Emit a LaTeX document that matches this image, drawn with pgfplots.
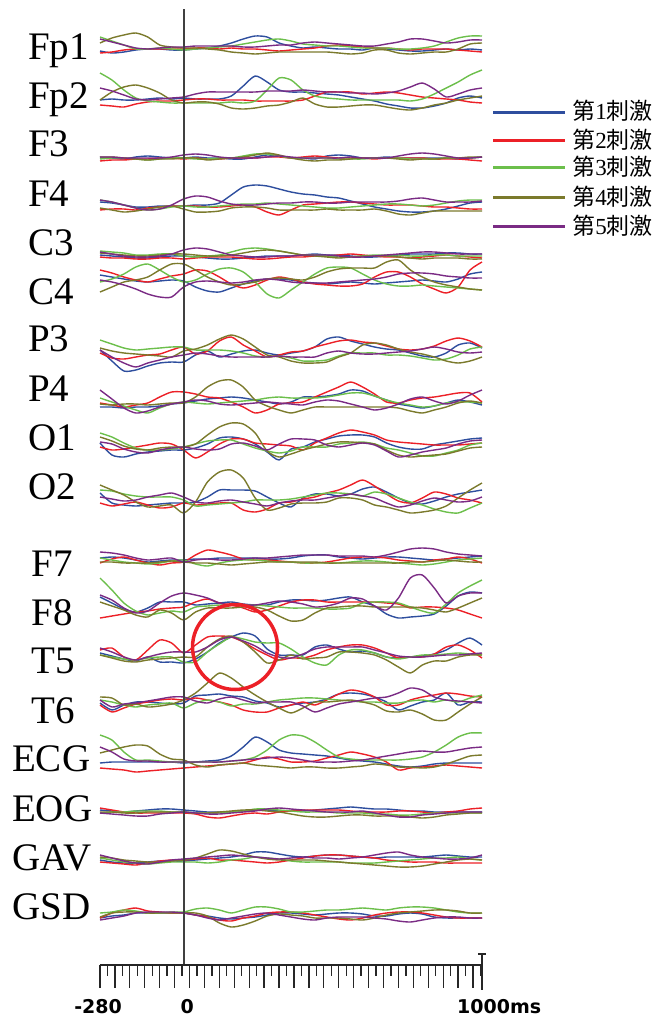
\documentclass[border=0pt]{standalone}
\usepackage{fontspec}
\setmainfont{Liberation Serif}
\newfontfamily\cjk{Noto Sans CJK SC}
\newfontfamily\tickfont{DejaVu Sans}
\usepackage{pgfplots}
\usepackage{pgfplotstable}
\pgfplotsset{compat=1.18}
\definecolor{cB}{HTML}{2E4E9E}
\definecolor{cR}{HTML}{EC2027}
\definecolor{cG}{HTML}{6CBF4B}
\definecolor{cO}{HTML}{7B7A2C}
\definecolor{cP}{HTML}{7A2B84}

\pgfplotstableread[header=false]{
t -280 -240 -200 -160 -120 -80 -40 0 40 80 120 160 200 240 280 320 360 400 440 480 520 560 600 640 680 720 760 800 840 880 920 960 1000
b -3 -5 -4 -2 -1 -1 -2 -2 -1 0 2 5 9 12 11 5 2 0 1 0 -1 -1 -2 0 -1 -2 -3 -3 -2 -1 -2 -1 -2
r -5 -4 -2 -1 -1 -1 -1 -1 0 0 -1 0 -1 -1 -2 -3 -2 -1 0 2 3 2 1 0 0 -1 -2 -1 -1 -1 -2 -3 -4
g 11 7 3 -1 -1 0 -1 -2 -1 0 1 2 4 6 8 9 7 4 3 2 2 1 0 0 0 -1 -1 0 2 6 10 12 12
o 5 10 13 15 11 3 1 0 0 -1 -2 -4 -5 -6 -5 -4 -4 -4 -4 -4 -5 -6 -5 -2 -2 -5 -6 -5 -4 -4 -1 4 5
p 9 6 3 0 -1 0 1 1 2 2 2 2 1 1 2 3 3 5 6 5 4 3 2 2 4 6 9 9 7 5 6 8 8
}\raw
\pgfplotstabletranspose[colnames from=0]{\tFpi}{\raw}

\pgfplotstableread[header=false]{
t -280 -240 -200 -160 -120 -80 -40 0 40 80 120 160 200 240 280 320 360 400 440 480 520 560 600 640 680 720 760 800 840 880 920 960 1000
b -2 -1 -2 -2 -1 0 -1 0 -1 -1 -1 2 12 22 16 8 6 6 5 4 3 1 -1 -3 -6 -8 -10 -10 -8 -5 0 2 0
r -7 -8 -9 -6 -4 -3 -3 -2 -1 -1 -2 -2 -2 -3 -3 -3 -3 -2 2 6 6 6 4 5 6 5 3 1 0 -1 -2 -4 -5
g 25 18 8 0 -3 -4 -5 -5 -5 -5 -5 -4 -5 -3 8 20 18 8 2 0 -1 -2 -2 -2 -2 -2 -3 -1 4 10 16 23 28
o -2 6 11 13 10 5 -2 -5 -4 -4 -6 -10 -11 -10 -8 -7 -4 0 -6 -9 -9 -8 -7 -7 -9 -11 -12 -10 -7 -5 -2 0 2
p 10 7 3 -1 -2 -1 0 1 4 6 6 6 6 6 7 7 7 8 7 6 6 5 5 4 5 7 11 15 9 1 4 8 10
}\raw
\pgfplotstabletranspose[colnames from=0]{\tFpii}{\raw}

\pgfplotstableread[header=false]{
t -280 -240 -200 -160 -120 -80 -40 0 40 80 120 160 200 240 280 320 360 400 440 480 520 560 600 640 680 720 760 800 840 880 920 960 1000
b 0 0 -1 1 2 1 0 0 1 0 0 -1 -1 1 3 2 0 0 -1 2 3 2 0 0 1 0 0 0 0 0 -1 0 1
r -3 -2 -2 -1 -1 0 0 -1 0 -1 -1 0 0 0 1 1 0 1 2 1 0 0 0 -1 0 0 0 0 -1 -1 -1 -2 -3
g -1 0 0 -1 -2 -1 0 0 -1 -1 0 0 2 4 4 2 0 0 0 0 -1 -1 -1 0 0 0 -1 -1 -1 0 0 0 1
o 1 1 0 -1 -2 -1 -1 0 0 -2 -1 0 1 3 5 3 0 -2 -3 -2 -2 -1 0 0 0 -1 -2 -1 -1 0 0 1 1
p 1 1 0 0 0 0 1 3 4 3 1 0 0 0 1 2 1 0 0 0 0 1 0 0 0 2 4 5 4 2 0 0 1
}\raw
\pgfplotstabletranspose[colnames from=0]{\tFiii}{\raw}

\pgfplotstableread[header=false]{
t -280 -240 -200 -160 -120 -80 -40 0 40 80 120 160 200 240 280 320 360 400 440 480 520 560 600 640 680 720 760 800 840 880 920 960 1000
b 3 2 0 -2 -2 -1 -1 -1 0 0 2 10 18 20 19 16 13 11 10 8 7 4 1 -2 -4 -6 -7 -7 -6 -4 -1 2 3
r -5 -4 -4 -5 -3 -2 -1 -1 -1 -2 -2 -1 0 -2 -7 -10 -5 0 1 2 3 3 2 1 0 0 0 -1 -2 -2 -3 -4 -4
g 5 3 0 -3 -5 -4 -2 -1 -2 -2 -1 0 1 1 2 1 0 -1 -2 -3 -3 -2 -1 0 1 1 0 -1 0 2 4 5 5
o -3 -5 -7 -6 -4 -2 -1 -4 -7 -7 -6 -3 -2 -2 -3 -5 -5 -5 -5 -4 -5 -5 -5 -4 -6 -9 -10 -8 -6 -6 -6 -6 -6
p 5 3 0 -3 -5 -4 0 6 9 8 4 1 0 0 1 2 2 3 3 2 2 3 3 3 3 4 6 7 5 3 3 3 4
}\raw
\pgfplotstabletranspose[colnames from=0]{\tFiv}{\raw}

\pgfplotstableread[header=false]{
t -280 -240 -200 -160 -120 -80 -40 0 40 80 120 160 200 240 280 320 360 400 440 480 520 560 600 640 680 720 760 800 840 880 920 960 1000
b 2 1 0 -1 -1 0 1 1 0 -1 -2 -2 -1 0 1 1 1 2 3 2 2 1 0 0 1 2 3 3 3 4 4 3 3
r 0 -1 -1 -2 -2 -1 -1 -2 -1 0 0 0 -1 -2 -2 -1 0 0 1 1 2 3 2 1 0 0 -1 0 1 2 1 0 -1
g 6 5 4 2 2 3 3 1 0 1 2 5 8 9 8 6 4 2 2 1 0 0 1 2 2 2 1 1 2 2 1 1 1
o 4 3 2 1 1 2 3 3 2 1 1 2 4 6 7 6 4 2 1 0 -1 0 1 1 1 0 -1 -2 -1 -1 -1 -2 -2
p 5 3 1 0 0 1 3 7 9 8 5 2 1 0 0 1 1 2 2 2 1 0 0 1 2 3 4 5 5 4 3 3 3
}\raw
\pgfplotstabletranspose[colnames from=0]{\tCiii}{\raw}

\pgfplotstableread[header=false]{
t -280 -240 -200 -160 -120 -80 -40 0 40 80 120 160 200 240 280 320 360 400 440 480 520 560 600 640 680 720 760 800 840 880 920 960 1000
b 7 5 3 1 0 1 2 1 -5 -9 -10 -6 -2 1 3 3 2 0 -1 -2 -1 0 -1 -2 -1 0 1 2 1 0 3 8 10
r 12 9 5 2 0 3 6 8 12 11 5 -2 -6 -3 2 5 3 0 -2 -3 -4 -4 -2 5 10 10 5 -2 -7 -11 -5 12 20
g 0 3 8 15 18 12 5 0 2 8 13 14 10 0 -12 -16 -8 0 8 14 15 14 8 2 -2 -4 -4 -3 -4 -5 -6 -7 -8
o -10 -5 0 2 5 12 18 18 12 5 0 -3 -2 0 3 4 3 2 5 10 13 14 14 14 20 22 12 5 0 -3 -5 -7 -8
p 2 0 -3 -7 -12 -15 -15 -5 0 1 0 -1 0 2 3 2 0 -1 -1 -1 0 1 2 3 5 8 9 9 8 6 5 4 4
}\raw
\pgfplotstabletranspose[colnames from=0]{\tCiv}{\raw}

\pgfplotstableread[header=false]{
t -280 -240 -200 -160 -120 -80 -40 0 40 80 120 160 200 240 280 320 360 400 440 480 520 560 600 640 680 720 760 800 840 880 920 960 1000
b 3 -8 -18 -17 -13 -10 -9 -9 -2 2 -4 -1 2 3 0 -2 0 2 6 14 16 12 9 6 4 3 0 -3 -4 0 8 10 5
r 0 -5 -6 -4 -2 -1 3 6 -1 2 12 16 8 2 -4 -2 1 2 6 9 12 13 11 10 7 4 3 4 7 12 15 12 6
g 13 9 5 3 4 5 6 6 3 3 3 2 0 -3 -4 -3 -5 -8 -8 -7 -3 0 0 0 -2 -2 -3 -5 -7 -6 -2 4 6
o 5 2 0 -1 -2 -3 -4 2 4 8 14 18 14 6 -2 -4 -8 -10 -10 -9 -4 0 8 10 8 4 1 -1 -4 -8 -10 -8 -4
p 3 -4 -10 -14 -10 -7 -4 -2 0 -1 -3 -4 -4 -4 -4 -3 -4 -4 -4 0 2 0 -1 -1 0 1 2 4 6 4 1 0 1
}\raw
\pgfplotstabletranspose[colnames from=0]{\tPiii}{\raw}

\pgfplotstableread[header=false]{
t -280 -240 -200 -160 -120 -80 -40 0 40 80 120 160 200 240 280 320 360 400 440 480 520 560 600 640 680 720 760 800 840 880 920 960 1000
b -5 -5 -6 -5 -5 -4 -2 -1 1 3 4 5 4 2 0 -2 0 5 5 6 8 12 11 6 2 -2 -4 -6 -4 -1 2 0 -3
r -1 -3 -5 -3 -1 5 10 10 8 5 4 0 -5 -11 -8 -2 -1 0 5 10 15 20 15 8 0 -1 2 4 5 7 9 9 0
g 4 0 -4 -8 -11 -6 -2 0 -1 -2 -1 0 1 2 4 5 4 4 4 5 7 9 9 6 2 -1 -3 -5 -4 -1 0 0 -1
o -2 -3 -2 -2 -3 -2 -1 -1 5 15 21 22 15 2 -4 -8 -11 -8 -5 -5 -5 -5 -5 -5 -5 -6 -9 -11 -8 -5 -1 1 -1
p 12 3 -6 -11 -9 -5 -2 0 2 1 -2 -3 -2 -1 0 -1 -2 -3 0 2 1 -2 -5 -8 -6 -2 3 5 1 -2 1 7 12
}\raw
\pgfplotstabletranspose[colnames from=0]{\tPiv}{\raw}

\pgfplotstableread[header=false]{
t -280 -240 -200 -160 -120 -80 -40 0 40 80 120 160 200 240 280 320 360 400 440 480 520 560 600 640 680 720 760 800 840 880 920 960 1000
b 4 -8 -10 -7 -5 -4 -3 -3 -1 3 9 10 8 3 -5 -13 -2 0 5 8 11 12 12 10 4 0 -2 -2 2 4 6 8 9
r 0 -3 -2 0 2 4 3 -3 -11 -5 3 8 8 4 3 2 1 -3 4 9 14 17 15 12 7 5 4 3 2 2 2 3 4
g 14 10 4 -1 -3 -3 -2 0 3 6 7 7 3 -1 -4 -6 -4 0 0 0 3 4 5 3 -1 -3 -6 -9 -9 -6 -3 2 4
o 10 6 1 -2 -3 -1 0 0 3 12 20 24 23 14 -4 -10 -7 -3 0 3 5 5 4 3 -3 -8 -10 -9 -8 -7 -4 -1 0
p 5 3 -2 -5 -6 -3 -1 0 -2 -3 -2 3 4 1 -3 3 8 8 7 2 0 2 4 2 -4 -10 -8 -5 -3 -1 3 6 7
}\raw
\pgfplotstabletranspose[colnames from=0]{\tOi}{\raw}

\pgfplotstableread[header=false]{
t -280 -240 -200 -160 -120 -80 -40 0 40 80 120 160 200 240 280 320 360 400 440 480 520 560 600 640 680 720 760 800 840 880 920 960 1000
b 7 -3 -5 -6 -5 -4 -3 -3 -2 3 10 10 10 9 3 -3 -7 2 6 6 4 6 11 13 8 2 -3 -4 -1 3 6 8 10
r -3 -6 -4 -2 -5 -8 -7 -3 -5 -4 -3 -3 -10 -12 -9 -3 -2 1 3 7 10 15 20 14 6 -1 -3 2 8 6 2 0 -3
g 10 9 6 4 3 3 3 0 -6 -5 -4 -3 -2 0 0 0 1 3 5 7 7 6 4 8 6 2 -2 -5 -9 -12 -13 -8 -3
o 15 10 5 -2 -7 -6 -5 -13 -2 18 28 30 22 2 -10 -8 -4 -3 -3 -2 2 2 0 -5 -7 -10 -13 -12 -10 -6 2 10 17
p 3 1 -1 0 3 5 7 3 -2 -3 -1 0 -2 -4 -6 -3 -1 0 0 2 4 6 4 2 -3 -7 -5 -1 2 0 -2 -1 3
}\raw
\pgfplotstabletranspose[colnames from=0]{\tOii}{\raw}

\pgfplotstableread[header=false]{
t -280 -240 -200 -160 -120 -80 -40 0 40 80 120 160 200 240 280 320 360 400 440 480 520 560 600 640 680 720 760 800 840 880 920 960 1000
b 2 3 2 0 -2 -1 0 0 1 1 2 2 2 2 1 1 2 4 5 5 3 2 1 2 3 3 2 1 0 1 2 3 4
r -3 1 3 0 -3 -5 -3 -2 5 10 8 5 1 0 0 -1 -2 -3 -3 -2 0 2 3 3 2 0 -1 -2 0 1 3 1 -3
g 2 0 -2 -3 -4 -3 -1 0 -4 -6 -3 -1 0 0 -1 -2 -2 -3 -3 -3 -3 -2 -1 -1 -2 -3 -4 -5 -4 -2 0 1 2
o -2 -2 -3 -3 -3 -2 -1 -2 -3 -3 -4 -5 -4 -3 -2 -2 -2 -2 -2 -3 -3 -3 -3 -3 -3 -3 -2 -2 -1 0 -1 -2 -2
p 8 7 5 2 0 1 2 -2 0 1 0 0 1 2 2 3 4 5 5 5 4 4 4 3 5 8 11 12 11 8 6 5 4
}\raw
\pgfplotstabletranspose[colnames from=0]{\tFvii}{\raw}

\pgfplotstableread[header=false]{
t -280 -240 -200 -160 -120 -80 -40 0 40 80 120 160 200 240 280 320 360 400 440 480 520 560 600 640 680 720 760 800 840 880 920 960 1000
b 11 5 -1 -4 0 6 6 6 3 4 5 6 4 3 3 6 8 8 7 8 10 11 6 2 -6 -10 -9 -8 -6 2 12 16 15
r -10 -8 -6 -4 -3 -1 0 1 6 9 5 3 0 -4 -2 2 6 8 8 6 6 6 6 6 5 4 0 1 1 0 -2 -6 -10
g 30 18 5 -3 -7 -5 -3 -4 1 2 3 3 3 3 2 1 0 0 0 -1 -1 0 5 6 6 5 1 -3 -5 4 15 22 28
o 6 2 -2 -7 -9 -2 -5 -12 -4 0 0 0 1 1 -2 -8 -13 -12 -5 0 1 2 2 1 1 1 1 0 -2 -4 0 5 10
p 13 8 0 -5 -3 5 12 15 13 10 5 3 3 3 5 7 6 4 1 2 5 10 9 2 -2 10 30 33 20 5 12 15 15
}\raw
\pgfplotstabletranspose[colnames from=0]{\tFviii}{\raw}

\pgfplotstableread[header=false]{
t -280 -240 -200 -160 -120 -80 -40 0 40 80 120 160 200 240 280 320 360 400 440 480 520 560 600 640 680 720 760 800 840 880 920 960 1000
b 4 1 -2 -4 0 -5 -5 -6 -2 5 14 20 24 21 8 2 2 2 10 12 8 5 6 4 0 -1 0 1 3 7 14 19 12
r 7 9 0 -3 7 17 14 4 12 20 21 20 15 8 2 -3 -1 -1 2 7 10 12 12 9 4 -1 0 0 3 10 12 7 -1
g 2 0 -2 -3 -1 0 0 -5 -5 5 13 20 18 15 14 14 8 0 -6 -8 2 7 7 4 0 -2 0 2 2 3 4 3 2
o 2 -1 -4 -5 -3 -2 -1 0 0 10 18 21 15 5 -6 -3 2 -2 -1 0 5 5 4 2 -3 -10 -16 -8 -4 -4 0 2 2
p 9 5 0 -3 0 3 5 5 5 10 17 20 16 11 4 0 -1 3 8 10 10 10 10 7 4 1 0 0 1 2 2 3 4
}\raw
\pgfplotstabletranspose[colnames from=0]{\tTv}{\raw}

\pgfplotstableread[header=false]{
t -280 -240 -200 -160 -120 -80 -40 0 40 80 120 160 200 240 280 320 360 400 440 480 520 560 600 640 680 720 760 800 840 880 920 960 1000
b -1 -8 -3 0 0 -1 -2 -1 6 7 8 6 5 1 -1 -5 -3 -1 0 3 8 9 8 5 0 -8 -4 0 2 9 -3 0 0
r -3 -10 -6 -2 0 2 3 2 4 2 0 -3 -8 -10 -10 -6 -3 0 -3 2 8 12 10 5 -3 -3 2 5 7 9 8 6 5
g 2 0 -3 -5 -3 -2 -1 -6 -1 2 0 -4 -2 -2 0 2 3 4 4 3 2 1 0 0 -1 -1 1 2 0 2 0 4 7
o 5 4 -3 -2 -5 -4 -2 2 9 19 29 24 15 7 0 -6 -11 -6 0 0 1 2 0 -3 -9 -10 -8 -12 -18 -18 -10 -2 5
p 2 -5 -2 -1 1 3 5 5 1 -1 3 5 2 -1 0 0 0 -4 -10 -6 -2 0 2 4 5 9 14 12 5 2 1 0 -1
}\raw
\pgfplotstabletranspose[colnames from=0]{\tTvi}{\raw}

\pgfplotstableread[header=false]{
t -280 -240 -200 -160 -120 -80 -40 0 40 80 120 160 200 240 280 320 360 400 440 480 520 560 600 640 680 720 760 800 840 880 920 960 1000
b -1 0 0 0 0 0 0 -1 0 1 2 6 15 25 20 12 9 8 7 6 4 2 1 0 -2 -4 -5 -4 -2 -1 -1 -1 -1
r -6 -7 -8 -10 -9 -8 -7 -6 -5 -4 -3 -2 -1 2 5 3 0 0 1 4 7 10 8 5 0 -8 -6 -5 -4 -3 -4 -5 -6
g 27 22 10 2 2 1 0 0 0 0 0 1 2 5 12 22 27 26 20 12 5 3 2 2 2 2 3 5 10 17 25 29 29
o 9 12 15 17 16 8 3 2 -3 -5 -3 -2 -1 -3 -4 -5 -6 -5 -5 -6 -6 -5 -4 -2 -3 -5 -5 -6 -5 -2 2 6 7
p 15 10 3 1 1 0 0 0 0 0 0 1 2 3 4 5 4 2 0 0 0 1 2 4 6 8 10 11 10 10 12 14 15
}\raw
\pgfplotstabletranspose[colnames from=0]{\tECG}{\raw}

\pgfplotstableread[header=false]{
t -280 -240 -200 -160 -120 -80 -40 0 40 80 120 160 200 240 280 320 360 400 440 480 520 560 600 640 680 720 760 800 840 880 920 960 1000
b 2 1 0 1 2 3 3 2 1 0 0 0 1 2 2 1 1 1 2 3 4 5 4 3 3 2 1 1 0 0 0 0 0
r 4 2 0 -1 -1 -1 -1 -1 -2 -5 -6 -4 -2 -1 -2 0 1 2 2 2 2 1 0 0 0 1 1 0 -1 0 1 3 4
g -1 0 0 1 1 1 0 0 -1 -1 -1 0 1 3 3 2 1 0 0 0 -1 -1 -1 -2 -2 -3 -3 -2 -1 -1 -1 -1 -1
o 0 0 -1 -1 0 0 0 0 -1 -1 0 1 2 2 1 0 -2 -4 -5 -5 -4 -3 -3 -4 -4 -4 -5 -6 -5 -3 -2 -1 -1
p -1 -2 -3 -4 -4 -2 -1 0 -1 -2 -2 -1 0 1 3 4 3 2 1 0 0 0 1 -1 -3 -5 -5 -3 -2 -1 0 0 0
}\raw
\pgfplotstabletranspose[colnames from=0]{\tEOG}{\raw}

\pgfplotstableread[header=false]{
t -280 -240 -200 -160 -120 -80 -40 0 40 80 120 160 200 240 280 320 360 400 440 480 520 560 600 640 680 720 760 800 840 880 920 960 1000
b 0 -2 -3 -3 -2 -1 -1 -1 0 1 2 3 5 8 8 6 4 3 4 5 5 4 3 2 3 3 3 3 4 5 4 3 3
r -2 -3 -4 -5 -3 -1 0 0 1 2 0 0 -1 -2 -3 -2 0 2 4 5 5 4 3 2 0 -1 -2 -2 -2 -3 -3 -3 -3
g 2 0 -2 -3 -4 -3 -2 -2 -2 -3 -2 0 1 3 2 1 -1 -2 -2 -2 -2 -3 -3 -3 -2 -1 0 1 2 2 3 1 0
o 3 2 0 -1 -2 -2 -1 0 2 6 10 9 6 3 1 0 0 0 0 -1 -2 -3 -4 -5 -6 -7 -7 -6 -4 -2 0 1 0
p 5 2 -1 -3 -4 -2 0 1 2 3 4 5 4 3 2 1 2 3 2 2 1 2 3 5 7 8 5 3 2 1 1 2 5
}\raw
\pgfplotstabletranspose[colnames from=0]{\tGAV}{\raw}

\pgfplotstableread[header=false]{
t -280 -240 -200 -160 -120 -80 -40 0 40 80 120 160 200 240 280 320 360 400 440 480 520 560 600 640 680 720 760 800 840 880 920 960 1000
b -5 -3 -2 0 0 0 0 0 -2 -3 -5 -6 -5 -4 -2 0 0 -1 -2 -1 0 0 -1 -3 -3 -1 0 -1 -4 -5 -5 -5 -5
r -5 0 3 5 2 1 0 0 -2 -4 -7 -8 -5 -3 0 1 1 0 -2 -4 -6 -7 -5 -2 0 1 1 0 -2 -4 -5 -5 -5
g 0 1 3 2 0 0 1 1 4 5 3 0 3 6 6 4 1 1 2 3 3 4 5 4 3 5 6 6 5 3 1 0 0
o -4 0 1 1 0 0 0 0 0 -3 -10 -14 -12 -8 -3 -1 -2 -3 -5 -5 -5 -6 -7 -5 -2 0 1 2 3 3 2 0 0
p -7 -5 -3 0 1 1 1 0 -2 -5 -7 -5 -3 -1 0 -2 -4 -6 -7 -5 -4 -4 -4 -5 -6 -8 -9 -7 -5 -4 -4 -5 -5
}\raw
\pgfplotstabletranspose[colnames from=0]{\tGSD}{\raw}

\newcommand{\chan}[2]{%
\addplot[cB] table[x=t,y expr={#2-\thisrow{b}}]{#1};
\addplot[cR] table[x=t,y expr={#2-\thisrow{r}}]{#1};
\addplot[cG] table[x=t,y expr={#2-\thisrow{g}}]{#1};
\addplot[cO] table[x=t,y expr={#2-\thisrow{o}}]{#1};
\addplot[cP] table[x=t,y expr={#2-\thisrow{p}}]{#1};
}
\newcommand{\lab}[3]{\node[anchor=base west,inner sep=0pt,font=\fontsize{39}{44}\selectfont] at (axis cs:#1,#2) {#3};}
\newcommand{\leg}[3]{%
\draw[#1,line width=3pt] (axis cs:1037,#2) -- (axis cs:1278,#2);
\node[anchor=west,inner sep=0pt,font=\fontsize{23}{26}\selectfont] at (axis cs:1302,#2-1) {{\cjk 第}#3{\cjk 刺激}};}

\begin{document}
\begin{tikzpicture}
\path[use as bounding box] (0,0) rectangle (659pt,1018pt);
\begin{axis}[
  at={(0,0)}, anchor=south west,
  scale only axis, width=659pt, height=1018pt,
  xmin=-615.08, xmax=1593.09, ymin=0, ymax=1018, y dir=reverse,
  hide axis, clip=false,
  every axis plot/.append style={no marks, line width=1.4pt, smooth, tension=0.45, line join=round},
]
\chan{\tFpi}{48}
\chan{\tFpii}{98}
\chan{\tFiii}{158}
\chan{\tFiv}{205}
\chan{\tCiii}{257}
\chan{\tCiv}{282}
\chan{\tPiii}{353}
\chan{\tPiv}{402}
\chan{\tOi}{447}
\chan{\tOii}{500}
\chan{\tFvii}{560}
\chan{\tFviii}{608}
\chan{\tTv}{657}
\chan{\tTvi}{702}
\chan{\tECG}{762}
\chan{\tEOG}{812}
\chan{\tGAV}{860}
\chan{\tGSD}{913}

\lab{-521}{59.5}{Fp1}
\lab{-521}{108}{Fp2}
\lab{-521}{156.5}{F3}
\lab{-521}{206.5}{F4}
\lab{-521}{255}{C3}
\lab{-521}{304}{C4}
\lab{-521}{351.5}{P3}
\lab{-521}{401.5}{P4}
\lab{-521}{450.5}{O1}
\lab{-521}{499}{O2}
\lab{-509}{576.5}{F7}
\lab{-509}{625}{F8}
\lab{-509}{673}{T5}
\lab{-509}{723}{T6}
\lab{-575}{771}{ECG}
\lab{-575}{821}{EOG}
\lab{-575}{870}{GAV}
\lab{-575}{919}{GSD}

% vertical zero line
\draw[line width=2pt, color=black!75] (axis cs:0,9) -- (axis cs:0,965);
% time axis
\draw[line width=1.5pt, color=black!85] (axis cs:-280,965) -- (axis cs:1000,965);
\pgfplotsinvokeforeach{0,...,25}{\draw[line width=1.3pt,color=black!85] (axis cs:{-280+50*#1},965) -- (axis cs:{-280+50*#1},988);}
\pgfplotsinvokeforeach{0,...,25}{\draw[line width=1.3pt,color=black!85] (axis cs:{-255+50*#1},965) -- (axis cs:{-255+50*#1},976);}
\draw[line width=1.5pt,color=black!85] (axis cs:1000,954) -- (axis cs:1000,990);
\draw[line width=1.5pt,color=black!85] (axis cs:987,954) -- (axis cs:1013,954);
\node[anchor=base east,inner sep=0pt,font=\tickfont\bfseries\fontsize{19}{22}\selectfont] at (axis cs:-206,1013) {-280};
\node[anchor=base,inner sep=0pt,font=\tickfont\bfseries\fontsize{19}{22}\selectfont] at (axis cs:12,1013) {0};
\node[anchor=base west,inner sep=0pt,font=\tickfont\bfseries\fontsize{19}{22}\selectfont] at (axis cs:916,1013) {1000ms};

% red circle
\draw[color=cR, line width=3.5pt] (axis cs:172.4,647) circle[radius=42.5pt];

% legend
\leg{cB}{112}{1}
\leg{cR}{140.5}{2}
\leg{cG}{167.5}{3}
\leg{cO}{197.5}{4}
\leg{cP}{226.5}{5}
\end{axis}
\end{tikzpicture}
\end{document}
